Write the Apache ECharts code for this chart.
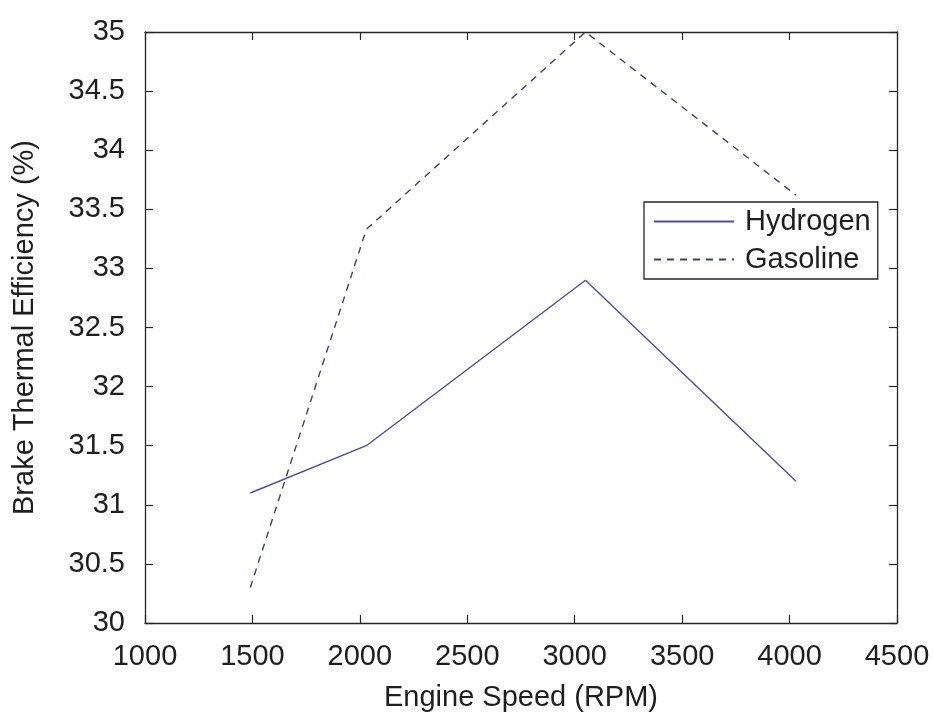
<!DOCTYPE html>
<html>
<head>
<meta charset="utf-8">
<title>Brake Thermal Efficiency</title>
<script src="https://cdn.jsdelivr.net/npm/echarts@6/dist/echarts.min.js"></script>
<style>
  html, body { margin: 0; padding: 0; background: #fff; }
  #chart { width: 933px; height: 718px; }
</style>
</head>
<body>
<div id="chart"></div>
<script>
// values
const rpmHydrogen = [1490, 2030, 3050, 4030]
const hydrogen = [31.1, 31.5, 32.9, 31.2]
const rpmGasoline = [1490, 2030, 3050, 4030]
const gasoline = [30.3, 33.33, 35.0, 33.62]

const textColor = '#1e1e1e'
const frameColor = '#262626'
const font = 'Liberation Sans, Arial, sans-serif'
const fontSize = 29

const chart = echarts.init(document.getElementById('chart'))

const frameAxis = {
  axisLine: { show: true, onZero: false, lineStyle: { color: frameColor, width: 1.3 } },
  axisTick: { show: true, inside: true, length: 8, lineStyle: { color: frameColor, width: 1.2 } },
  splitLine: { show: false }
}

chart.setOption({
  animation: false,
  backgroundColor: '#fff',
  grid: { left: 145, right: 36, top: 32, bottom: 95 },
  legend: {
    orient: 'vertical',
    left: 644,
    top: 202,
    padding: [5, 7, 5, 9],
    itemWidth: 80,
    itemHeight: 30,
    itemGap: 9,
    backgroundColor: '#fff',
    borderColor: frameColor,
    borderWidth: 1.3,
    itemStyle: { opacity: 0 },
    textStyle: { fontFamily: font, fontSize: fontSize, color: textColor, padding: [0, 0, 0, 6] },
    data: ['Hydrogen', 'Gasoline']
  },
  xAxis: [
    Object.assign({
      type: 'value', position: 'bottom', min: 1000, max: 4500, interval: 500,
      name: 'Engine Speed (RPM)', nameLocation: 'middle', nameGap: 60,
      nameTextStyle: { fontFamily: font, fontSize: fontSize, color: textColor },
      axisLabel: { fontFamily: font, fontSize: fontSize, color: textColor, margin: 19, formatter: v => String(v) }
    }, frameAxis),
    Object.assign({
      type: 'value', position: 'top', min: 1000, max: 4500, interval: 500,
      axisLabel: { show: false }
    }, frameAxis)
  ],
  yAxis: [
    Object.assign({
      type: 'value', position: 'left', min: 30, max: 35, interval: 0.5,
      name: 'Brake Thermal Efficiency (%)', nameLocation: 'middle', nameGap: 106,
      nameTextStyle: { fontFamily: font, fontSize: fontSize, color: textColor },
      axisLabel: { fontFamily: font, fontSize: fontSize, color: textColor, margin: 20, formatter: v => String(v) }
    }, frameAxis),
    Object.assign({
      type: 'value', position: 'right', min: 30, max: 35, interval: 0.5,
      axisLabel: { show: false }
    }, frameAxis)
  ],
  series: [
    {
      name: 'Hydrogen',
      type: 'line',
      symbol: 'none',
      xAxisIndex: 0, yAxisIndex: 0,
      lineStyle: { color: '#4d4d9c', width: 1.4, type: 'solid' },
      itemStyle: { color: '#4d4d9c' },
      data: rpmHydrogen.map((r, i) => [r, hydrogen[i]])
    },
    {
      name: 'Gasoline',
      type: 'line',
      symbol: 'none',
      xAxisIndex: 0, yAxisIndex: 0,
      lineStyle: { color: '#3e3e72', width: 1.4, type: [7, 6] },
      itemStyle: { color: '#3e3e72' },
      data: rpmGasoline.map((r, i) => [r, gasoline[i]])
    }
  ]
})
</script>
</body>
</html>
